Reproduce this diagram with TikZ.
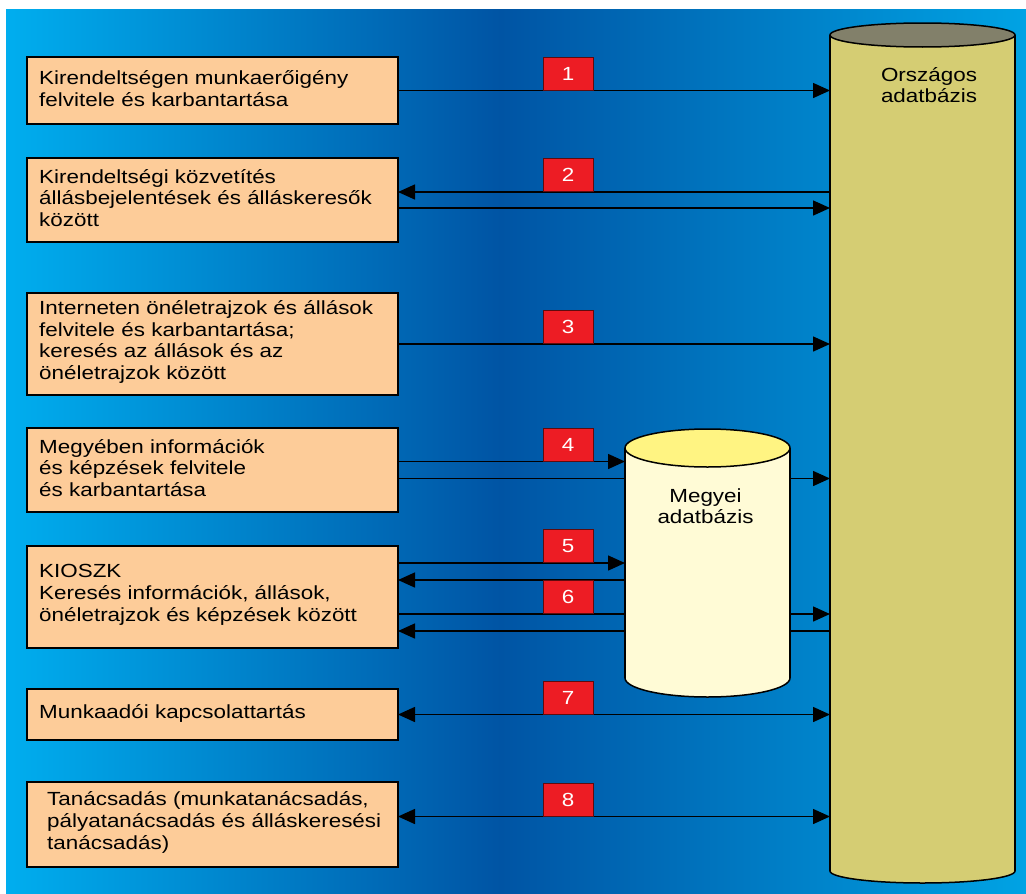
\documentclass[tikz,border=0pt]{standalone}
\usepackage{fontspec}
\setmainfont[FakeStretch=1.18]{Liberation Sans}
\usetikzlibrary{arrows.meta}

\definecolor{bgcyan}{RGB}{0,174,239}
\definecolor{bgdeep}{RGB}{0,84,164}
\definecolor{bgcyanr}{RGB}{0,163,228}
\definecolor{boxfill}{RGB}{253,204,153}
\definecolor{numred}{RGB}{237,28,36}
\definecolor{natbody}{RGB}{213,205,115}
\definecolor{nattop}{RGB}{130,128,106}
\definecolor{megbody}{RGB}{255,251,214}
\definecolor{megtop}{RGB}{255,244,130}

\begin{document}
\begin{tikzpicture}[x=1pt,y=-1pt,
  taskbox/.style={draw=black, line width=1.5pt, fill=boxfill,
    minimum width=371pt, inner sep=0pt, outer sep=0pt},
  tasktext/.style={anchor=west, align=left, inner sep=0pt,
    font=\fontsize{19}{21.8}\selectfont},
  dbtext/.style={align=center, inner sep=0pt,
    font=\fontsize{19}{21.5}\selectfont},
  frame/.style={inner sep=0pt, outer sep=0pt},
  numbox/.style={draw=black!60!numred, line width=0.8pt, fill=numred,
    text=white, minimum width=50pt, minimum height=33pt, inner sep=0pt,
    anchor=south, font=\fontsize{19}{22}\selectfont},
  flow/.style={line width=1.5pt, -{Triangle[length=17pt,width=15pt]}},
  flowback/.style={line width=1.5pt, {Triangle[length=17pt,width=15pt]}-{Triangle[length=17pt,width=15pt]}},
  cyl/.style={line width=1.5pt}
]
\useasboundingbox (0,0) rectangle (1026,894);

% background
\fill[white] (0,0) rectangle (1026,894);
\shade[left color=bgcyan, right color=bgdeep] (6,9) rectangle (501,894);
\shade[left color=bgdeep, right color=bgcyanr] (500,9) rectangle (1026,894);

% task boxes
\node[taskbox, minimum height=67pt]  (b1) at (212.5,90.5) {};
\node[taskbox, minimum height=84pt]  (b2) at (212.5,200) {};
\node[taskbox, minimum height=102pt] (b3) at (212.5,344) {};
\node[taskbox, minimum height=84pt]  (b4) at (212.5,470) {};
\node[taskbox, minimum height=102pt] (b5) at (212.5,597) {};
\node[taskbox, minimum height=51pt]  (b6) at (212.5,714.5) {};
\node[taskbox, minimum height=85pt]  (b7) at (212.5,824.5) {};

% cylinder bodies (used as connection frames)
\node[frame, minimum width=185pt, minimum height=836pt] (nat) at (922.5,453) {};
\node[frame, minimum width=165pt, minimum height=230pt] (meg) at (707.5,563) {};

% rows of the connectors
\coordinate (mid) at (568,0);
\coordinate (r2a) at ([yshift=8pt]b2.east);
\coordinate (r2b) at ([yshift=-8pt]b2.east);
\coordinate (r4a) at ([yshift=8.5pt]b4.east);
\coordinate (r4b) at ([yshift=-8.5pt]b4.east);
\coordinate (r5a) at ([yshift=34pt]b5.east);
\coordinate (r5b) at ([yshift=17pt]b5.east);
\coordinate (r6a) at ([yshift=-17pt]b5.east);
\coordinate (r6b) at ([yshift=-34pt]b5.east);
\coordinate (r8) at ([yshift=8pt]b7.east);

% connectors
\draw[flow] (b1.east) -- (b1.east -| nat.west);
\draw[flow] (r2a -| nat.west) -- (r2a);
\draw[flow] (r2b) -- (r2b -| nat.west);
\draw[flow] (b3.east) -- (b3.east -| nat.west);
\draw[flow] (r4a) -- (r4a -| meg.west);
\draw[flow] (r4b) -- (r4b -| nat.west);
\draw[flow] (r5a) -- (r5a -| meg.west);
\draw[flow] (r5b -| meg.west) -- (r5b);
\draw[flow] (r6a) -- (r6a -| nat.west);
\draw[flow] (r6b -| nat.west) -- (r6b);
\draw[flowback] (b6.east) -- (b6.east -| nat.west);
\draw[flowback] (r8) -- (r8 -| nat.west);

% national database cylinder
\filldraw[cyl, fill=natbody] (nat.south) ellipse [x radius=92.5, y radius=12];
\fill[natbody] (nat.south west) rectangle (nat.north east);
\draw[cyl] (nat.south west) -- (nat.north west) (nat.south east) -- (nat.north east);
\filldraw[cyl, fill=nattop] (nat.north) ellipse [x radius=92.5, y radius=12];
\node[dbtext] (natlabel) at (929,85) {Országos\\adatbázis};

% county database cylinder
\filldraw[cyl, fill=megbody] (meg.south) ellipse [x radius=82.5, y radius=19];
\fill[megbody] (meg.south west) rectangle (meg.north east);
\draw[cyl] (meg.south west) -- (meg.north west) (meg.south east) -- (meg.north east);
\filldraw[cyl, fill=megtop] (meg.north) ellipse [x radius=82.5, y radius=19];
\node[dbtext] (meglabel) at (705.5,506) {Megyei\\adatbázis};

% numbered markers
\node[numbox] (n1) at (mid |- b1.east) {1};
\node[numbox] (n2) at (mid |- r2a) {2};
\node[numbox] (n3) at (mid |- b3.east) {3};
\node[numbox] (n4) at (mid |- r4a) {4};
\node[numbox] (n5) at (mid |- r5a) {5};
\node[numbox] (n6) at (mid |- r6a) {6};
\node[numbox] (n7) at (mid |- b6.east) {7};
\node[numbox] (n8) at (mid |- r8) {8};

% box texts
\node[tasktext] (t1) at ([xshift=12pt,yshift=2pt]b1.west) {Kirendeltségen munkaerőigény\\felvitele és karbantartása};
\node[tasktext] (t2) at ([xshift=12pt,yshift=2pt]b2.west) {Kirendeltségi közvetítés\\állásbejelentések és álláskeresők\\között};
\node[tasktext] (t3) at ([xshift=12pt,yshift=2pt]b3.west) {Interneten önéletrajzok és állások\\felvitele és karbantartása;\\keresés az állások és az\\önéletrajzok között};
\node[tasktext] (t4) at ([xshift=12pt,yshift=2pt]b4.west) {Megyében információk\\és képzések felvitele\\és karbantartása};
\node[tasktext] (t5) at ([xshift=12pt,yshift=2pt]b5.west) {KIOSZK\\Keresés információk, állások,\\önéletrajzok és képzések között};
\node[tasktext] (t6) at ([xshift=12pt,yshift=1pt]b6.west) {Munkaadói kapcsolattartás};
\node[tasktext] (t7) at ([xshift=20pt,yshift=2pt]b7.west) {Tanácsadás (munkatanácsadás,\\pályatanácsadás és álláskeresési\\tanácsadás)};
\end{tikzpicture}
\end{document}
